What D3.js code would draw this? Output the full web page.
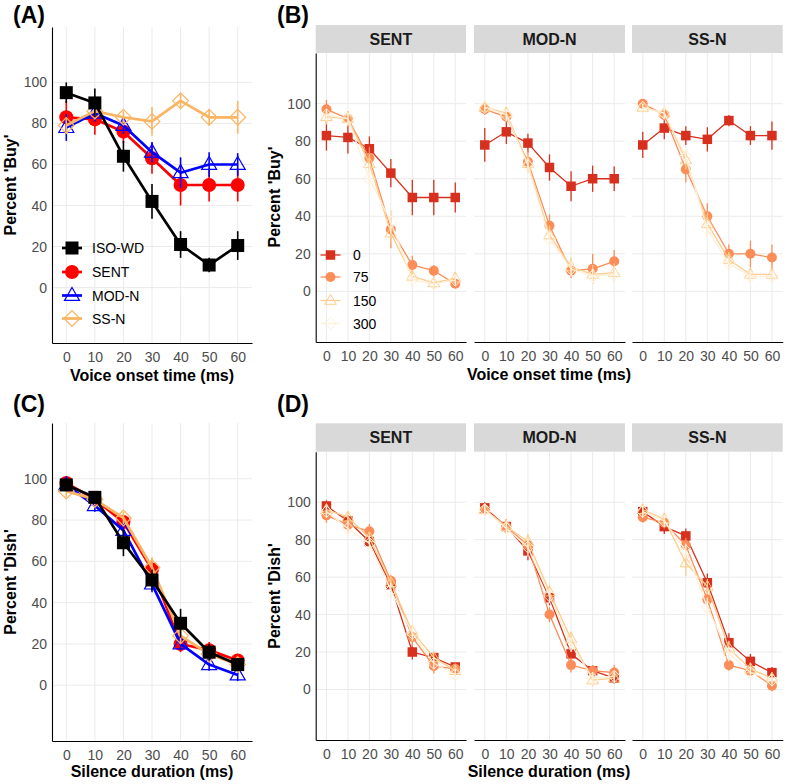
<!DOCTYPE html>
<html><head><meta charset="utf-8">
<script src="https://cdn.jsdelivr.net/npm/d3@7"></script>
<style>body{margin:0;background:#fff}svg{display:block;font-family:"Liberation Sans",Arial,sans-serif}</style>
</head><body><svg id="c" width="785" height="784"></svg>
<script>
// ---------------- data ----------------
const xVals = [0, 10, 20, 30, 40, 50, 60];
const yTicks = [0, 20, 40, 60, 80, 100];
const groups = ["ISO-WD", "SENT", "MOD-N", "SS-N"];
const facets = ["SENT", "MOD-N", "SS-N"];
const silences = ["0", "75", "150", "300"];

// Panel A: percent 'Buy' by VOT
const aISO  = [95, 90, 64, 42, 21, 11, 20.5];
const aSENT = [83, 82, 76, 63, 50, 50, 50];
const aMOD  = [78, 85, 79, 66, 56, 60, 60];
const aSS   = [79, 86, 83, 81, 91, 83, 83];
const aISOerr  = [5, 7, 7.5, 8.5, 6.5, 3.5, 7];
const aSENTerr = [8, 7.5, 5.5, 7.5, 10, 8, 8];
const aMODerr  = [6.5, 4, 4, 5, 7.5, 6, 5.5];
const aSSerr   = [4, 4, 3, 7, 3.5, 4, 8];

// Panel C: percent 'Dish' by silence duration
const cISO  = [97, 91, 69, 51, 30, 16, 10];
const cSENT = [98, 90, 79, 56, 20, 17, 12];
const cMOD  = [97, 87, 75, 49, 20, 10, 5];
const cSS   = [94, 90, 81, 57, 24, 15, 10];
const cISOerr  = [3, 3, 6.5, 5, 7, 4, 3];
const cSENTerr = [2, 3, 3, 4, 4, 4, 3];
const cMODerr  = [3, 3, 3, 4, 3, 3, 3];
const cSSerr   = [3, 3, 3, 5, 4, 3, 3];

// Panel B: 'Buy' by VOT, per facet, per silence (0,75,150,300)
const bSENT0 = [83, 82, 76, 63, 50, 50, 50],   bSENT0err = [8, 8.5, 6.5, 7.5, 9.5, 9.5, 8];
const bSENT75 = [97, 92, 71, 33, 14, 11, 4],   bSENT75err = [5, 4, 6, 10, 5, 3, 2];
const bSENT150 = [93, 92, 68, 31, 8, 4.5, 7],  bSENT150err = [4, 4, 5, 5, 3, 3, 3];
const bSENT300 = [94, 92, 60, 37, 6, 4, 6],    bSENT300err = [3, 3, 8, 6, 3, 2, 3];
const bMOD0 = [78, 85, 79, 66, 56, 60, 60],    bMOD0err = [9, 6.5, 5, 7, 8, 7, 6.5];
const bMOD75 = [97, 93, 69, 35, 11, 12, 16],   bMOD75err = [3, 3, 6, 6, 4, 8, 6];
const bMOD150 = [98, 95, 68, 30, 13, 9, 10],   bMOD150err = [3, 3, 5, 5, 5, 5, 5];
const bMOD300 = [98, 94, 67, 28, 12, 8, 9],    bMOD300err = [2, 3, 4, 4, 4, 4, 4];
const bSS0 = [78, 87, 83, 81, 91, 83, 83],     bSS0err = [7, 6, 5, 6.5, 3, 5, 7.5];
const bSS75 = [100, 94, 65, 40, 20, 20, 18],   bSS75err = [2, 3, 7, 7, 5, 7, 7];
const bSS150 = [98, 95, 70, 36, 17, 9, 9],     bSS150err = [2, 3, 5, 6, 4, 4, 3];
const bSS300 = [98, 95, 72, 33, 15, 8, 8],     bSS300err = [2, 3, 4, 5, 4, 3, 3];

// Panel D: 'Dish' by silence duration, per facet, per silence
const dSENT0 = [98, 90, 79, 56, 20, 17, 12],     dSENT0err = [3, 3, 3, 4, 4, 3, 2];
const dSENT75 = [93, 88, 84.5, 58, 28, 12.5, 11], dSENT75err = [4, 4, 4, 3, 5, 4, 3];
const dSENT150 = [96, 92, 81, 57, 31, 17, 10],   dSENT150err = [3, 3, 3, 3, 3, 3, 3];
const dSENT300 = [95, 86, 78, 53, 30, 14, 8],    dSENT300err = [3, 4, 4, 4, 4, 3, 3];
const dMOD0 = [97, 87, 74, 49, 19, 10, 6],       dMOD0err = [3, 4, 5, 4, 3, 3, 3];
const dMOD75 = [96, 87, 77, 40, 13, 10, 9],      dMOD75err = [3, 4, 4, 4, 4, 3, 4];
const dMOD150 = [96, 87, 79, 52, 27, 5, 6],      dMOD150err = [3, 4, 4, 4, 4, 3, 3];
const dMOD300 = [96, 86, 76, 50, 24, 6, 7],      dMOD300err = [3, 4, 5, 4, 4, 3, 3];
const dSS0 = [95, 87, 82, 57, 25, 15, 9],        dSS0err = [3, 4, 4, 5, 5, 4, 3];
const dSS75 = [92, 89, 77, 48, 13, 10, 2],       dSS75err = [3, 3, 4, 4, 3, 3, 3];
const dSS150 = [96, 91, 67.5, 55, 22, 11, 6],    dSS150err = [3, 3, 7, 4, 4, 3, 3];
const dSS300 = [95, 90, 74, 44, 19, 9, 5],       dSS300err = [3, 3, 4, 5, 4, 3, 3];

const groupColors = ["#000000", "#ff0000", "#0000ff", "#f9b563"];
const silenceColors = ["#d7301f", "#fc8d59", "#fdcc8a", "#fef0d9"];
const shapes = ["square", "circle", "triangle", "diamond"];
const groupDrawOrder = [1, 2, 3, 0]; // ISO-WD drawn on top

// ---------------- drawing ----------------
const svg = d3.select("#c");
const Y_DOMAIN = [-27, 127];
const X_DOMAIN = [-5, 65];

function shapePath(shape, s) {
  const h = s / 2;
  if (shape === "square") return `M${-h},${-h}H${h}V${h}H${-h}Z`;
  if (shape === "circle") return d3.arc()({innerRadius: 0, outerRadius: h, startAngle: 0, endAngle: 2 * Math.PI});
  if (shape === "triangle") { const t = s * 0.866; return `M0,${-t * 0.62}L${h},${t * 0.38}L${-h},${t * 0.38}Z`; }
  if (shape === "diamond") { const d = h * 1.05; return `M0,${-d}L${d},0L0,${d}L${-d},0Z`; }
}
function drawSymbol(g, shape, x, y, s, color, sw) {
  const filled = shape === "square" || shape === "circle";
  g.append("path").attr("d", shapePath(shape, s)).attr("transform", `translate(${x},${y})`)
    .attr("fill", filled ? color : "none").attr("stroke", color).attr("stroke-width", filled ? 0 : sw);
}

function panel(opts) {
  const {x0, x1, y0, y1, series, leftAxis, msize, lw, ew, osw} = opts;
  const g = svg.append("g");
  const x = d3.scaleLinear().domain(X_DOMAIN).range([x0, x1]);
  const y = d3.scaleLinear().domain(Y_DOMAIN).range([y1, y0]);
  g.selectAll(null).data(yTicks).join("line").attr("x1", x0).attr("x2", x1)
    .attr("y1", d => y(d)).attr("y2", d => y(d)).attr("stroke", "#ebebeb").attr("stroke-width", 1);
  g.selectAll(null).data(xVals).join("line").attr("y1", y0).attr("y2", y1)
    .attr("x1", d => x(d)).attr("x2", d => x(d)).attr("stroke", "#ebebeb").attr("stroke-width", 1);
  const xa = g.append("g").attr("transform", `translate(0,${y1})`)
    .call(d3.axisBottom(x).tickValues(xVals).tickSize(0).tickPadding(9));
  xa.select(".domain").attr("stroke", "#000").attr("stroke-width", 1.1);
  xa.selectAll("text").attr("font-size", 14).attr("fill", "#4d4d4d").attr("font-family", "Liberation Sans, Arial, sans-serif");
  if (leftAxis) {
    const ya = g.append("g").attr("transform", `translate(${x0},0)`)
      .call(d3.axisLeft(y).tickValues(yTicks).tickSize(0).tickPadding(5));
    ya.select(".domain").attr("stroke", "#000").attr("stroke-width", 1.1);
    ya.selectAll("text").attr("font-size", 14).attr("fill", "#4d4d4d").attr("font-family", "Liberation Sans, Arial, sans-serif");
  }
  series.forEach(s => {
    const sg = g.append("g");
    const pts = xVals.map((xv, i) => ({x: xv, v: s.values[i], e: s.err[i]}));
    sg.append("path").datum(pts).attr("fill", "none").attr("stroke", s.color).attr("stroke-width", lw)
      .attr("stroke-linejoin", "round")
      .attr("d", d3.line().x(d => x(d.x)).y(d => y(d.v)));
    sg.selectAll(null).data(pts).join("line").attr("x1", d => x(d.x)).attr("x2", d => x(d.x))
      .attr("y1", d => y(d.v - d.e)).attr("y2", d => y(d.v + d.e)).attr("stroke", s.color).attr("stroke-width", ew);
    pts.forEach(d => drawSymbol(sg, s.shape, x(d.x), y(d.v), msize[s.shape], s.color, osw));
  });
  return {x, y};
}

function strip(x0, x1, y0, y1, label) {
  svg.append("rect").attr("x", x0).attr("y", y0).attr("width", x1 - x0).attr("height", y1 - y0).attr("fill", "#d9d9d9");
  svg.append("text").attr("x", (x0 + x1) / 2).attr("y", (y0 + y1) / 2 + 5.5).attr("text-anchor", "middle")
    .attr("font-size", 16).attr("font-weight", "bold").attr("fill", "#1a1a1a").text(label);
}
function text(x, y, t, size, weight, anchor, rot) {
  const el = svg.append("text").attr("font-size", size).attr("font-weight", weight || "normal")
    .attr("text-anchor", anchor || "start").attr("fill", "#000").text(t);
  if (rot) el.attr("transform", `translate(${x},${y}) rotate(-90)`); else el.attr("x", x).attr("y", y);
  return el;
}
function legend(items, kx, tx, ys, msize, lw, sw) {
  items.forEach((it, i) => {
    svg.append("line").attr("x1", kx - 10).attr("x2", kx + 10).attr("y1", ys[i]).attr("y2", ys[i])
      .attr("stroke", it.color).attr("stroke-width", lw);
    drawSymbol(svg, it.shape, kx, ys[i], msize[it.shape], it.color, sw);
    svg.append("text").attr("x", tx).attr("y", ys[i] + 5).attr("font-size", 14).attr("fill", "#000").text(it.label);
  });
}

const bigSize = {square: 13, circle: 14, triangle: 15, diamond: 15};
const smallSize = {square: 9.5, circle: 10, triangle: 11.5, diamond: 11.5};

// ---- Panel A ----
const aVals = [aISO, aSENT, aMOD, aSS], aErr = [aISOerr, aSENTerr, aMODerr, aSSerr];
panel({x0: 52, x1: 252, y0: 27, y1: 343, leftAxis: true, msize: bigSize, lw: 2.7, ew: 1.6, osw: 1.2,
  series: groupDrawOrder.map(i => ({values: aVals[i], err: aErr[i], color: groupColors[i], shape: shapes[i]}))});
legend(groups.map((g, i) => ({label: g, color: groupColors[i], shape: shapes[i]})), 72, 92, [248, 272, 295.5, 318.5], bigSize, 2.7, 1.2);
text(13, 23, "(A)", 23, "bold");
text(152, 381, "Voice onset time (ms)", 16, "bold", "middle");
text(16, 185, "Percent 'Buy'", 16, "bold", "middle", true);

// ---- Panel C ----
const cVals = [cISO, cSENT, cMOD, cSS], cErr = [cISOerr, cSENTerr, cMODerr, cSSerr];
panel({x0: 52, x1: 252, y0: 423, y1: 741, leftAxis: true, msize: bigSize, lw: 2.7, ew: 1.6, osw: 1.2,
  series: groupDrawOrder.map(i => ({values: cVals[i], err: cErr[i], color: groupColors[i], shape: shapes[i]}))});
text(13, 412, "(C)", 23, "bold");
text(152, 777, "Silence duration (ms)", 16, "bold", "middle");
text(16, 582, "Percent 'Dish'", 16, "bold", "middle", true);

// ---- Panel B & D ----
const facetX = [[315.7, 466], [474, 625], [632, 782.7]];
const bData = [[bSENT0, bSENT75, bSENT150, bSENT300], [bMOD0, bMOD75, bMOD150, bMOD300], [bSS0, bSS75, bSS150, bSS300]];
const bErr = [[bSENT0err, bSENT75err, bSENT150err, bSENT300err], [bMOD0err, bMOD75err, bMOD150err, bMOD300err], [bSS0err, bSS75err, bSS150err, bSS300err]];
const dData = [[dSENT0, dSENT75, dSENT150, dSENT300], [dMOD0, dMOD75, dMOD150, dMOD300], [dSS0, dSS75, dSS150, dSS300]];
const dErr = [[dSENT0err, dSENT75err, dSENT150err, dSENT300err], [dMOD0err, dMOD75err, dMOD150err, dMOD300err], [dSS0err, dSS75err, dSS150err, dSS300err]];

facets.forEach((f, fi) => {
  const [x0, x1] = facetX[fi];
  strip(x0, x1, 25, 53, f);
  panel({x0, x1, y0: 53, y1: 342, leftAxis: fi === 0, msize: smallSize, lw: 1.3, ew: 1.3, osw: 1,
    series: silences.map((s, i) => ({values: bData[fi][i], err: bErr[fi][i], color: silenceColors[i], shape: shapes[i]}))});
  strip(x0, x1, 423.3, 451.7, f);
  panel({x0, x1, y0: 451.7, y1: 740, leftAxis: fi === 0, msize: smallSize, lw: 1.3, ew: 1.3, osw: 1,
    series: silences.map((s, i) => ({values: dData[fi][i], err: dErr[fi][i], color: silenceColors[i], shape: shapes[i]}))});
});
legend(silences.map((s, i) => ({label: s, color: silenceColors[i], shape: shapes[i]})), 330.5, 353, [255, 277, 300.5, 323.5], smallSize, 1.3, 1);
text(277, 23, "(B)", 23, "bold");
text(277, 412, "(D)", 23, "bold");
text(549, 380, "Voice onset time (ms)", 16, "bold", "middle");
text(549, 777, "Silence duration (ms)", 16, "bold", "middle");
text(280, 197, "Percent 'Buy'", 16, "bold", "middle", true);
text(280, 596, "Percent 'Dish'", 16, "bold", "middle", true);
</script></body></html>
